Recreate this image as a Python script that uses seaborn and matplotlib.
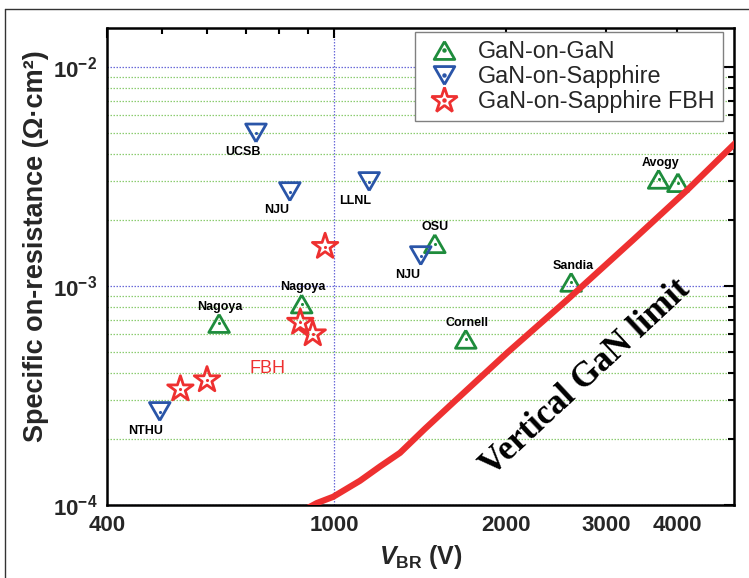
import numpy as np
import pandas as pd
import matplotlib
matplotlib.use('Agg')
import matplotlib.pyplot as plt
import seaborn as sns
from matplotlib.lines import Line2D
from matplotlib.legend_handler import HandlerTuple

# ---------------- data ----------------
gan_v = [629, 878, 1503, 2606, 1703, 3710, 4011]
gan_r = [6.73e-4, 8.26e-4, 1.556e-3, 1.037e-3, 5.70e-4, 3.06e-3, 2.955e-3]
gan_lab = ['Nagoya', 'Nagoya', 'OSU', 'Sandia', 'Cornell', 'Avogy', '']

sap_v = [730, 837, 1153, 1420, 495]
sap_r = [4.98e-3, 2.69e-3, 2.99e-3, 1.373e-3, 2.67e-4]
sap_lab = ['UCSB', 'NJU', 'LLNL', 'NJU', 'NTHU']

fbh_v = [538, 599, 873, 918, 965]
fbh_r = [3.38e-4, 3.72e-4, 6.81e-4, 6.03e-4, 1.51e-3]

limit_v = [900, 933, 997, 1111, 1205, 1306, 1445, 1618, 2013, 2565, 3348, 4168, 5016, 5200]
limit_r = [0.97e-4, 1.02e-4, 1.09e-4, 1.29e-4, 1.50e-4, 1.73e-4, 2.23e-4, 2.93e-4,
           4.95e-4, 8.63e-4, 1.62e-3, 2.74e-3, 4.39e-3, 4.8e-3]

series_names = ['GaN-on-GaN', 'GaN-on-Sapphire', 'GaN-on-Sapphire FBH']
x_ticks = [400, 1000, 2000, 3000, 4000]
x_minor = [500, 600, 700, 800, 900]
y_ticks = [1e-4, 1e-3, 1e-2]
y_tick_labels = ['$10^{-4}$', '$10^{-3}$', '$10^{-2}$']

# label offsets (points) relative to markers
gan_off = [(0.7, 11.8), (0.7, 11.9), (0, 12.3), (1.2, 12.1), (0.7, 12.1), (1.7, 12.1), (0, 0)]
sap_off = [(-9.6, -13.5), (-9.6, -13.2), (-10.1, -13.7), (-9.6, -13.8), (-10.1, -14.2)]

# ---------------- style ----------------
sns.set_style('white')
plt.rcParams['font.family'] = ['Liberation Sans', 'DejaVu Sans']
plt.rcParams['mathtext.fontset'] = 'custom'
plt.rcParams['mathtext.rm'] = 'Liberation Sans:bold'
plt.rcParams['mathtext.bf'] = 'Liberation Sans:bold'
plt.rcParams['mathtext.it'] = 'Liberation Sans:italic:bold'

GREEN = '#1e8c3c'
BLUE = '#2a55a8'
RED = '#ee3030'
GRID_G = '#8ccc70'
GRID_B = '#6a6ad8'

tri_up = [(0, 0.5), (-0.577, -0.5), (0.577, -0.5), (0, 0.5)]
tri_dn = [(0, -0.5), (-0.577, 0.5), (0.577, 0.5), (0, -0.5)]

fig = plt.figure(figsize=(7.49, 5.78), dpi=100)
ax = fig.add_axes([107/749, 1-505/578, (734-107)/749, (505-28)/578])
ax.set_xscale('log')
ax.set_yscale('log')
ax.set_xlim(400, 5030)
ax.set_ylim(1e-4, 1.5e-2)

# ticks & grid
ax.set_yticks(y_ticks, labels=y_tick_labels, fontsize=16)
ax.set_yticks([m * d for d in [1e-4, 1e-3] for m in range(2, 10)], minor=True)
ax.set_xticks(x_ticks, labels=[str(t) for t in x_ticks], fontsize=16, fontweight='bold')
ax.set_xticks(x_minor, minor=True)
ax.set_xticklabels([], minor=True)
ax.set_yticklabels([], minor=True)
ax.grid(False)
ax.grid(which='minor', axis='y', color=GRID_G, linestyle=(0, (1.2, 1.2)), linewidth=0.9)
ax.grid(which='major', axis='y', color=GRID_B, linestyle=(0, (1.2, 1.2)), linewidth=0.9)
ax.axvline(1000, color=GRID_B, linestyle=(0, (1.2, 1.2)), linewidth=0.9, zorder=0.5)

ax.tick_params(which='both', direction='in', top=True, right=True, width=1.5, color='black')
ax.tick_params(which='major', length=7)
ax.tick_params(which='minor', length=4)
ax.tick_params(axis='y', which='major', pad=7)
ax.tick_params(axis='x', which='major', pad=7)
for sp in ax.spines.values():
    sp.set_linewidth(1.8)
    sp.set_color('black')

# limit line
sns.lineplot(x=limit_v, y=limit_r, ax=ax, color=RED, linewidth=4.5, estimator=None,
             sort=False, zorder=4, legend=False)

# markers
ms_tri = 220
ms_star = 370
def draw(vs, rs, color, marker, s):
    sns.scatterplot(x=vs, y=rs, ax=ax, marker=marker, s=s, facecolor='none',
                    edgecolor=color, linewidth=2.0, zorder=3, legend=False)
    coll = ax.collections[-1]
    coll.set_facecolor('none')
    coll.set_edgecolor(color)
    sns.scatterplot(x=vs, y=rs, ax=ax, marker='o', s=5, color=color,
                    linewidth=0, zorder=3.1, legend=False)

draw(gan_v, gan_r, GREEN, tri_up, ms_tri)
draw(sap_v, sap_r, BLUE, tri_dn, ms_tri)
draw(fbh_v, fbh_r, RED, '*', ms_star)

for v, r, lab, off in zip(gan_v, gan_r, gan_lab, gan_off):
    if lab:
        ax.annotate(lab, (v, r), xytext=off, textcoords='offset points', ha='center',
                    va='center', fontsize=9, fontweight='bold', color='black')
for v, r, lab, off in zip(sap_v, sap_r, sap_lab, sap_off):
    ax.annotate(lab, (v, r), xytext=off, textcoords='offset points', ha='center',
                va='center', fontsize=9, fontweight='bold', color='black')

ax.text(766, 4.2e-4, 'FBH', color=RED, fontsize=13, ha='center', va='center')
ax.text(2770, 3.80e-4, 'Vertical GaN limit', family=['Liberation Serif', 'DejaVu Serif'],
        fontweight='bold', fontsize=25, rotation=43, rotation_mode='anchor',
        ha='center', va='center', color='black', zorder=5)

# labels
ax.set_ylabel('Specific on-resistance (Ω·cm²)', fontsize=19.5, fontweight='bold')
ax.yaxis.set_label_coords(-0.093, 0.542)
ax.set_xlabel(r'$\mathit{V}_{\mathrm{BR}}$ (V)', fontsize=18, fontweight='bold')
ax.xaxis.set_label_coords(0.5, -0.08)

# legend
msz = np.sqrt(ms_tri)
handles = [
    (Line2D([], [], marker=tri_up, ms=msz, mfc='none', mec=GREEN, mew=2.0, ls='none'),
     Line2D([], [], marker='o', ms=2.2, color=GREEN, ls='none')),
    (Line2D([], [], marker=tri_dn, ms=msz, mfc='none', mec=BLUE, mew=2.0, ls='none'),
     Line2D([], [], marker='o', ms=2.2, color=BLUE, ls='none')),
    (Line2D([], [], marker='*', ms=np.sqrt(ms_star), mfc='none', mec=RED, mew=2.0, ls='none'),
     Line2D([], [], marker='o', ms=2.2, color=RED, ls='none')),
]
leg = ax.legend(handles, series_names, handler_map={tuple: HandlerTuple(ndivide=1)},
                loc='upper right', bbox_to_anchor=(0.9825, 0.9916), borderaxespad=0,
                fontsize=16.8, frameon=True, fancybox=False, framealpha=1,
                edgecolor='#808080', borderpad=0.35, handlelength=1.75,
                handletextpad=0.6, labelspacing=0.08)
leg.get_frame().set_linewidth(1.0)

# outer frame
fig.add_artist(Line2D([5/749, 1], [1-8.5/578, 1-8.5/578], transform=fig.transFigure,
                      color='#333333', linewidth=1.0))
fig.add_artist(Line2D([5/749, 5/749], [0, 1-8.5/578], transform=fig.transFigure,
                      color='#333333', linewidth=1.0))

fig.savefig('out.png', dpi=100)
